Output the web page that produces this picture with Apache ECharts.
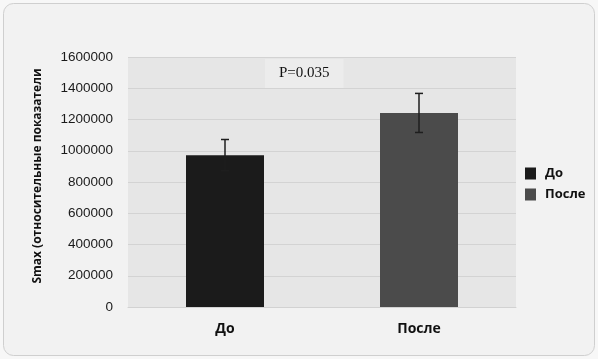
<!DOCTYPE html>
<html>
<head>
<meta charset="utf-8">
<script src="https://cdn.jsdelivr.net/npm/echarts@6/dist/echarts.min.js"></script>
<style>
  html, body { margin: 0; padding: 0; background: #f7f7f7; }
  #chart { width: 598px; height: 359px; }
</style>
</head>
<body>
<div id="chart"></div>
<script>
const categories = ['До', 'После'];
const means = [972000, 1242000];
const errors = [100000, 125000];
const barColors = ['#1b1b1b', '#4b4b4b'];
const yTicks = [0, 200000, 400000, 600000, 800000, 1000000, 1200000, 1400000, 1600000];
const pLabel = 'P=0.035';

const chartDom = document.getElementById('chart');
const myChart = echarts.init(chartDom, null, { renderer: 'canvas' });

// one bar series per group so the legend shows both
const barSeries = categories.map((name, i) => ({
    name: name,
    type: 'bar',
    stack: 'm',
    barWidth: 78,
    itemStyle: { color: barColors[i] },
    data: categories.map((c, j) => (j === i ? means[i] : '-'))
}));

const option = {
    animation: false,
    backgroundColor: '#f7f7f7',
    graphic: [
        {
            type: 'rect',
            silent: true,
            z: -10,
            shape: { x: 3.5, y: 3.5, width: 591, height: 352, r: 10 },
            style: { fill: '#f2f2f2', stroke: '#cfcfcf', lineWidth: 1 }
        }
    ],
    title: {
        text: pLabel,
        left: 265,
        top: 59,
        padding: [7, 14, 7, 14],
        backgroundColor: '#ececec',
        textStyle: {
            fontFamily: 'Liberation Serif',
            fontWeight: 'normal',
            fontSize: 15,
            color: '#111',
            width: 62
        }
    },
    legend: {
        orient: 'vertical',
        left: 520,
        top: 162,
        icon: 'rect',
        itemWidth: 11,
        itemHeight: 12,
        itemGap: 8,
        data: categories,
        textStyle: { fontFamily: 'Open Sans', fontWeight: 'bold', fontSize: 13, color: '#111', padding: [0, 0, 0, 4] }
    },
    grid: { left: 128, right: 82, top: 57, bottom: 52, show: true, backgroundColor: '#e6e6e6', borderWidth: 0 },
    xAxis: {
        type: 'category',
        data: categories,
        axisTick: { show: false },
        axisLine: { lineStyle: { color: '#d2d2d2' } },
        axisLabel: { margin: 15, fontFamily: 'Open Sans', fontWeight: 'bold', fontSize: 14, color: '#111' }
    },
    yAxis: {
        type: 'value',
        min: yTicks[0],
        max: yTicks[yTicks.length - 1],
        interval: yTicks[1] - yTicks[0],
        name: 'Smax (относительные показатели',
        nameLocation: 'middle',
        nameRotate: 90,
        nameGap: 84,
        nameTextStyle: { fontFamily: 'Open Sans', fontWeight: 'bold', fontSize: 12, color: '#111', padding: [0, 0, 0, 12] },
        axisLine: { show: false },
        axisTick: { show: false },
        splitLine: { lineStyle: { color: '#d3d3d3', width: 1 } },
        axisLabel: { margin: 15, fontFamily: 'Liberation Sans', fontSize: 13.5, color: '#1a1a1a', formatter: (v) => String(v) }
    },
    series: [
        ...barSeries,
        {
            type: 'custom',
            name: 'err',
            z: 10,
            data: means.map((m, i) => [i, m - errors[i], m + errors[i]]),
            renderItem: (params, api) => {
                const lo = api.coord([api.value(0), api.value(1)]);
                const hi = api.coord([api.value(0), api.value(2)]);
                const cap = 4;
                const style = { stroke: '#1e1e1e', lineWidth: 1.5 };
                return {
                    type: 'group',
                    children: [
                        { type: 'line', shape: { x1: hi[0], y1: hi[1], x2: lo[0], y2: lo[1] }, style },
                        { type: 'line', shape: { x1: hi[0] - cap, y1: hi[1], x2: hi[0] + cap, y2: hi[1] }, style },
                        { type: 'line', shape: { x1: lo[0] - cap, y1: lo[1], x2: lo[0] + cap, y2: lo[1] }, style }
                    ]
                };
            }
        }
    ]
};

myChart.setOption(option);
window.addEventListener('resize', myChart.resize);
</script>
</body>
</html>
